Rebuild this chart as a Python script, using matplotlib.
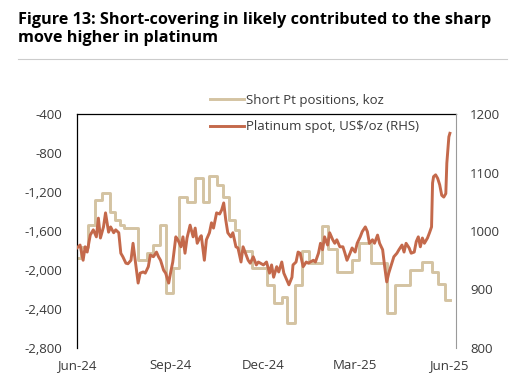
import matplotlib
matplotlib.use("Agg")
import matplotlib.pyplot as plt
import matplotlib.dates as mdates
import pandas as pd

# days since 1 Jun 2024
spot_days = [0, 3, 6, 8, 10, 13, 16, 19, 21, 23, 26, 28, 31, 33, 36, 38, 41, 43, 45, 48,
             50, 53, 55, 58, 60, 62, 65, 67, 70, 72, 75, 78, 80, 82, 85, 87, 90, 92, 94, 97,
             99, 102, 104, 106, 108, 111, 114, 116, 118, 121, 122, 125, 127, 130, 132, 134, 137, 140, 142, 144,
             146, 148, 151, 153, 156, 158, 161, 163, 165, 168, 170, 173, 176, 178, 183, 186, 189, 191, 193, 196,
             198, 201, 203, 206, 208, 211, 212, 215, 217, 219, 222, 225, 227, 229, 232, 234, 237, 239, 241, 243,
             246, 248, 251, 253, 255, 258, 261, 263, 265, 268, 270, 273, 275, 278, 280, 283, 285, 287, 290, 292,
             295, 297, 300, 302, 304, 306, 309, 311, 314, 316, 319, 321, 323, 326, 328, 331, 333, 335, 337, 339,
             341, 344, 346, 348, 349, 350, 352, 354, 356, 358, 360, 362, 363, 365, 366]
spot_price = [971, 976, 950, 973, 964, 993, 1002, 990, 1022, 988, 1007, 1031, 998, 1007, 997, 1002, 997, 962, 956, 945,
              944, 950, 979, 939, 911, 928, 930, 928, 939, 959, 956, 964, 956, 950, 933, 928, 911, 930, 947, 990,
              985, 973, 990, 962, 988, 1010, 990, 1005, 979, 990, 992, 950, 985, 997, 1014, 1005, 1031, 1029, 1036, 1048,
              1019, 997, 990, 997, 973, 971, 947, 973, 964, 950, 945, 956, 942, 947, 942, 947, 928, 942, 921, 939,
              930, 947, 928, 916, 908, 921, 942, 947, 964, 962, 939, 947, 945, 947, 950, 947, 962, 979, 968, 990,
              976, 997, 985, 979, 985, 973, 973, 962, 950, 962, 971, 964, 979, 990, 999, 1007, 999, 979, 985, 979,
              993, 979, 968, 939, 913, 928, 945, 956, 962, 968, 976, 964, 979, 971, 962, 964, 982, 990, 973, 988,
              979, 988, 997, 1007, 1082, 1093, 1096, 1090, 1079, 1061, 1058, 1064, 1116, 1161, 1167]

short_days = [0, 4, 11, 18, 25, 32, 37, 42, 46, 60, 69, 75, 81, 87, 94, 100, 108, 116, 124, 130,
              137, 143, 149, 155, 159, 172, 186, 193, 201, 206, 214, 221, 228, 240, 246, 255, 270, 277, 289, 304,
              312, 327, 339, 348, 354, 361, 366]
short_koz = [-1880, -1760, -1540, -1280, -1210, -1400, -1490, -1540, -1570, -1900, -1830, -1740, -1540, -2240, -1980, -1250, -1300, -1060, -1300, -1040,
             -1130, -1250, -1490, -1590, -1800, -1980, -2150, -2340, -2280, -2540, -2150, -1800, -1930, -1550, -1780, -2020, -1900, -1720, -1930, -2440,
             -2150, -2000, -1920, -2020, -2140, -2310, -2310]

x_ticks = ["2024-06-01", "2024-09-01", "2024-12-01", "2025-03-01", "2025-06-01"]

base = pd.Timestamp("2024-06-01")
spot_dates = base + pd.to_timedelta(spot_days, unit="D")
short_dates = base + pd.to_timedelta(short_days, unit="D")

TAN = "#D4C3A2"
RUST = "#C4694B"
TEXT = "#3a3a3a"
FONT = "Open Sans"

fig = plt.figure(figsize=(5.23, 3.85), dpi=100)
ax = fig.add_axes([77 / 523, 37 / 385, 379 / 523, 234 / 385])
ax2 = ax.twinx()

l1, = ax.plot(short_dates, short_koz, color=TAN, lw=2.1, drawstyle="steps-post",
              label="Short Pt positions, koz")
l2, = ax2.plot(spot_dates, spot_price, color=RUST, lw=2.1,
               label="Platinum spot, US$/oz (RHS)")
ax.set_zorder(ax2.get_zorder() - 1)
ax.patch.set_visible(False)

ax.set_ylim(-2800, -400)
ax.set_yticks(range(-2800, -399, 400))
ax.set_yticklabels([f"{v:,}" for v in range(-2800, -399, 400)])
ax2.set_ylim(800, 1200)
ax2.set_yticks(range(800, 1201, 100))
ax.set_xlim(base, pd.Timestamp("2025-06-08"))
ax.set_xticks(pd.to_datetime(x_ticks))
ax.xaxis.set_major_formatter(mdates.DateFormatter("%b-%y"))

for a in (ax, ax2):
    a.tick_params(length=0, labelsize=9.5, labelcolor=TEXT)
    for lab in a.get_xticklabels() + a.get_yticklabels():
        lab.set_fontfamily(FONT)
    a.spines["bottom"].set_visible(False)
ax.tick_params(axis="y", pad=11)
ax.tick_params(axis="x", pad=8)
ax2.tick_params(axis="y", pad=10)
ax.spines["left"].set_color("black")
ax.spines["top"].set_color("black")
ax.spines["right"].set_visible(False)
ax2.spines["left"].set_visible(False)
ax2.spines["top"].set_visible(False)
ax2.spines["right"].set_color("#9a9a9a")
for s in ("left", "top"):
    ax.spines[s].set_linewidth(0.9)

fig.legend(handles=[l1, l2], loc="upper left", bbox_to_anchor=(210 / 523, 1 - 94 / 385),
           frameon=False, prop={"family": FONT, "size": 9.5}, handlelength=2.6,
           handletextpad=0.15, labelspacing=1.0, borderpad=0, borderaxespad=0,
           labelcolor=TEXT)

fig.text(18 / 523, 1 - 12 / 385, "Figure 13: Short-covering in likely contributed to the sharp\nmove higher in platinum",
         ha="left", va="top", fontsize=11.7, fontweight="bold", family=FONT, color="black",
         linespacing=1.15)
fig.add_artist(plt.Line2D([18 / 523, 507 / 523], [1 - 59 / 385, 1 - 59 / 385], color="#cccccc", lw=0.8))

fig.savefig("out.png", dpi=100)
